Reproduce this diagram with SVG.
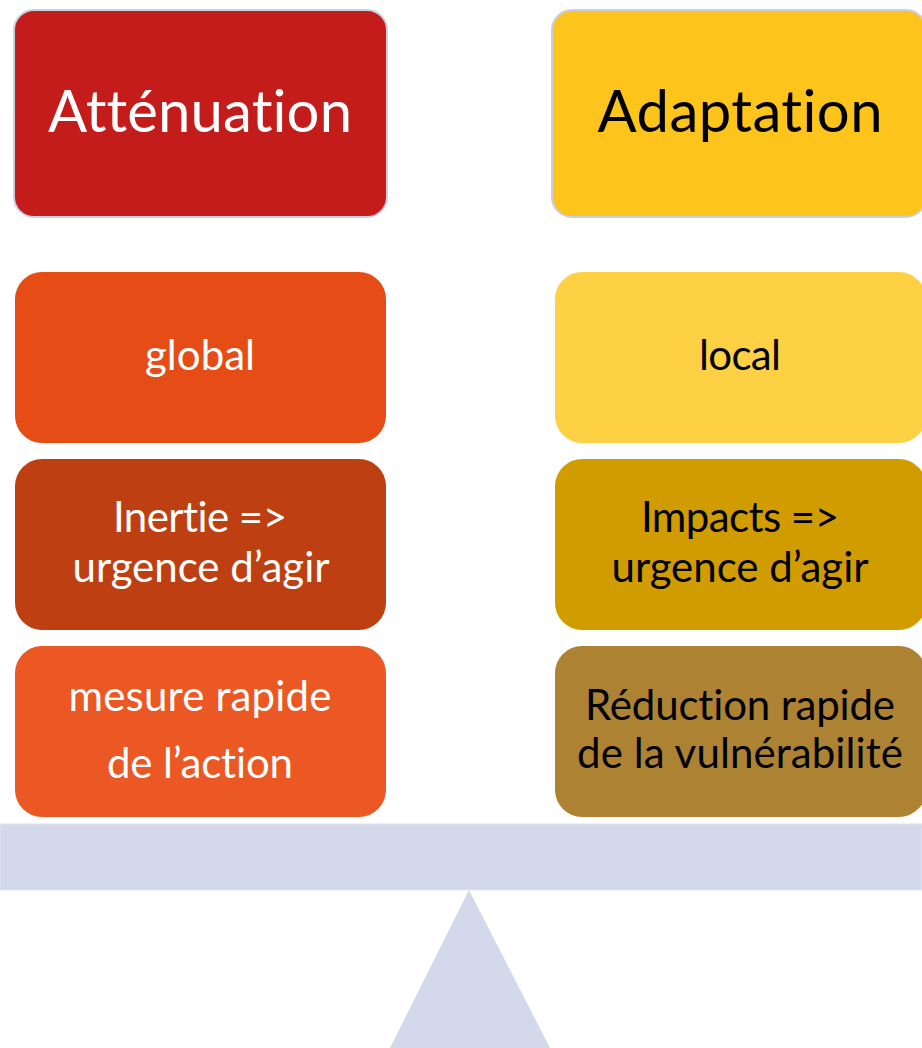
<svg xmlns="http://www.w3.org/2000/svg" width="922" height="1048" viewBox="0 0 922 1048">
  <style>
    .t { font-family: Lato, "Noto Sans", "Liberation Sans", sans-serif; text-anchor: middle; font-variant-ligatures: none; font-feature-settings: "liga" 0, "clig" 0; }
    .w { fill: #ffffff; }
    .k { fill: #000000; }
    .h { font-size: 58px; }
    .b { font-size: 42px; }
    .top { stroke: #C9CEE5; stroke-width: 2; }
  </style>
  <rect width="922" height="1048" fill="#ffffff"/>

  <g id="balance">
    <rect x="0" y="824" width="922" height="66" fill="#D3D8EB" stroke="#E3E6F2" stroke-width="1"/>
    <polygon points="469,890 390,1048 550,1048" fill="#D3D8EB"/>
  </g>

  <g id="connectors"></g>

  <g id="attenuation">
    <rect class="top" x="14" y="10" width="373" height="207" rx="20" fill="#C41B1B"/>
    <text class="t w h" x="200" y="132" textLength="304">Atténuation</text>
  </g>
  <g id="adaptation">
    <rect class="top" x="552" y="10" width="374" height="207" rx="20" fill="#FDC41B"/>
    <text class="t k h" x="740" y="132" textLength="285">Adaptation</text>
  </g>

  <g id="global">
    <rect x="15" y="272" width="371" height="171" rx="27" fill="#E64D16"/>
    <text class="t w b" x="200" y="370" textLength="110">global</text>
  </g>
  <g id="inertie">
    <rect x="15" y="459" width="371" height="171" rx="27" fill="#BE4012"/>
    <text class="t w b" x="200" y="532" textLength="174">Inertie =&gt;</text>
    <text class="t w b" x="201" y="582" textLength="257">urgence d’agir</text>
  </g>
  <g id="mesure">
    <rect x="15" y="646" width="371" height="171" rx="27" fill="#EC5823"/>
    <text class="t w b" x="200" y="711" textLength="263">mesure rapide</text>
    <text class="t w b" x="200" y="778" textLength="186">de l’action</text>
  </g>

  <g id="local">
    <rect x="555" y="272" width="371" height="171" rx="27" fill="#FED145"/>
    <text class="t k b" x="740" y="370" textLength="82">local</text>
  </g>
  <g id="impacts">
    <rect x="555" y="459" width="371" height="171" rx="27" fill="#D09C00"/>
    <text class="t k b" x="740" y="532" textLength="198">Impacts =&gt;</text>
    <text class="t k b" x="740" y="582" textLength="257">urgence d’agir</text>
  </g>
  <g id="reduction">
    <rect x="555" y="646" width="371" height="171" rx="27" fill="#AD8232"/>
    <text class="t k b" x="740" y="720" textLength="310">Réduction rapide</text>
    <text class="t k b" x="740" y="768" textLength="326">de la vulnérabilité</text>
  </g>
</svg>
